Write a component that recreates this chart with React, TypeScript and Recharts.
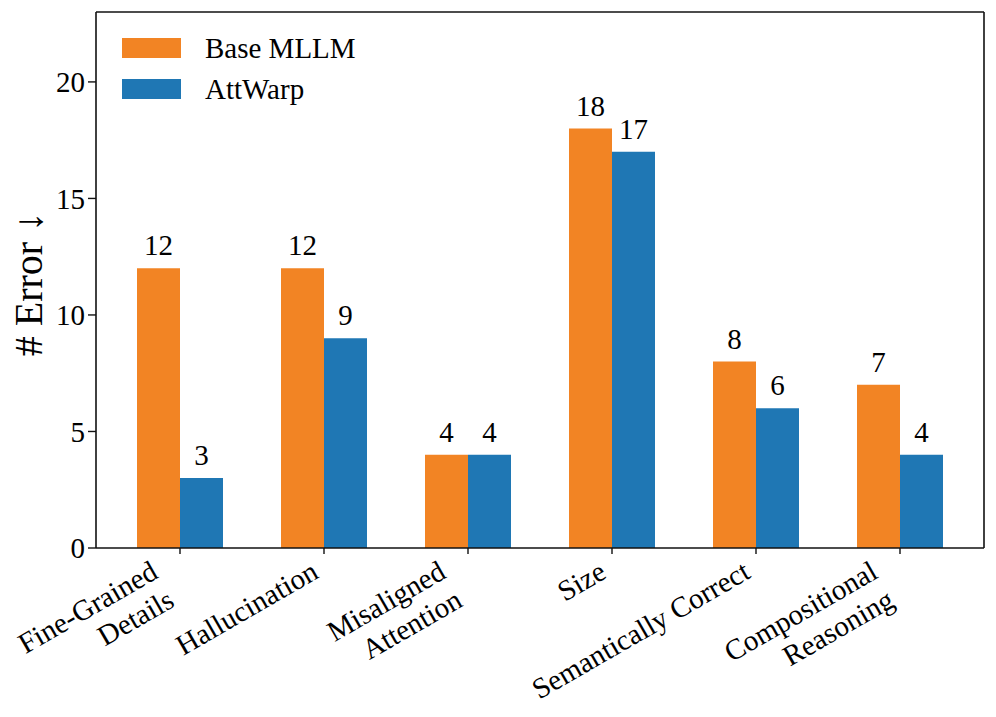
import { Bar, BarChart, CartesianGrid, LabelList, Legend, XAxis, YAxis } from 'recharts';

const categories = [
  'Fine-Grained\nDetails',
  'Hallucination',
  'Misaligned\nAttention',
  'Size',
  'Semantically Correct',
  'Compositional\nReasoning',
];
const baseMllm = [12, 12, 4, 18, 8, 7];
const attWarp = [3, 9, 4, 17, 6, 4];
const yTicks = [0, 5, 10, 15, 20];
const yMax = 23;

const FONT = '"Liberation Serif", "Times New Roman", serif';
const ORANGE = '#F28424';
const BLUE = '#1F77B4';
const AXIS = '#111';

const rows = categories.map((name, i) => ({ name, base: baseMllm[i], att: attWarp[i] }));

function CategoryTick({ x, y, payload }: any) {
  const lines = String(payload.value).split('\n');
  const lineH = 33;
  const n = lines.length;
  const ax = x - 4;
  const ay = y - 6 + 29 + 0.866 * (n - 1) * lineH;
  return (
    <g transform={`translate(${ax},${ay}) rotate(-30)`}>
      {lines.map((line, i) => (
        <text key={i} x={0} y={-(n - 1 - i) * lineH} textAnchor="end" fontFamily={FONT} fontSize={29} fill="#000">
          {line}
        </text>
      ))}
    </g>
  );
}

function LegendBox() {
  const items = [
    { label: 'Base MLLM', color: ORANGE },
    { label: 'AttWarp', color: BLUE },
  ];
  return (
    <div style={{ fontFamily: FONT }}>
      {items.map(item => (
        <div key={item.label} style={{ display: 'flex', alignItems: 'center', height: 20, marginBottom: 21 }}>
          <div style={{ width: 59, height: 20, background: item.color }} />
          <span style={{ marginLeft: 24, fontSize: 29, lineHeight: '20px', color: '#000' }}>{item.label}</span>
        </div>
      ))}
    </div>
  );
}

function YLabel({ viewBox }: any) {
  const cx = viewBox.x + 6;
  const cy = viewBox.y + viewBox.height / 2 + 4;
  return (
    <text x={cx} y={cy} transform={`rotate(-90, ${cx}, ${cy})`} textAnchor="middle" fontFamily={FONT} fontSize={40} fill="#000">
      # Error ↓
    </text>
  );
}

// top and right edges of the frame, taken from the plot area the chart lays out
const frameTop = ({ offset }: any) => [offset.top];
const frameRight = ({ offset }: any) => [offset.left + offset.width];

export default function App() {
  return (
    <div style={{ margin: -8 }}>
      <BarChart
        width={996}
        height={717}
        data={rows}
        margin={{ top: 12, right: 12, bottom: 9, left: 36 }}
        barGap={0}
        barSize={43}
      >
        <CartesianGrid
          stroke={AXIS}
          strokeWidth={1.6}
          horizontalCoordinatesGenerator={frameTop}
          verticalCoordinatesGenerator={frameRight}
        />
        <XAxis
          dataKey="name"
          interval={0}
          height={160}
          padding={{ left: 12, right: 12 }}
          axisLine={{ stroke: AXIS, strokeWidth: 1.6 }}
          tickLine={{ stroke: AXIS, strokeWidth: 1.4 }}
          tickSize={6}
          tickMargin={0}
          tick={<CategoryTick />}
        />
        <YAxis
          domain={[0, yMax]}
          ticks={yTicks}
          width={60}
          allowDataOverflow
          axisLine={{ stroke: AXIS, strokeWidth: 1.6 }}
          tickLine={{ stroke: AXIS, strokeWidth: 1.4 }}
          tickSize={8}
          tickMargin={3}
          tick={{ fontFamily: FONT, fontSize: 29, fill: '#000' }}
          label={<YLabel />}
        />
        <Legend
          layout="vertical"
          align="center"
          verticalAlign="middle"
          content={<LegendBox />}
          wrapperStyle={{ position: 'absolute', left: 122, top: 38, width: 'auto', height: 'auto' }}
        />
        <Bar dataKey="base" name="Base MLLM" fill={ORANGE} isAnimationActive={false}>
          <LabelList dataKey="base" position="top" offset={13} fontFamily={FONT} fontSize={29} fill="#000" />
        </Bar>
        <Bar dataKey="att" name="AttWarp" fill={BLUE} isAnimationActive={false}>
          <LabelList dataKey="att" position="top" offset={13} fontFamily={FONT} fontSize={29} fill="#000" />
        </Bar>
      </BarChart>
    </div>
  );
}
